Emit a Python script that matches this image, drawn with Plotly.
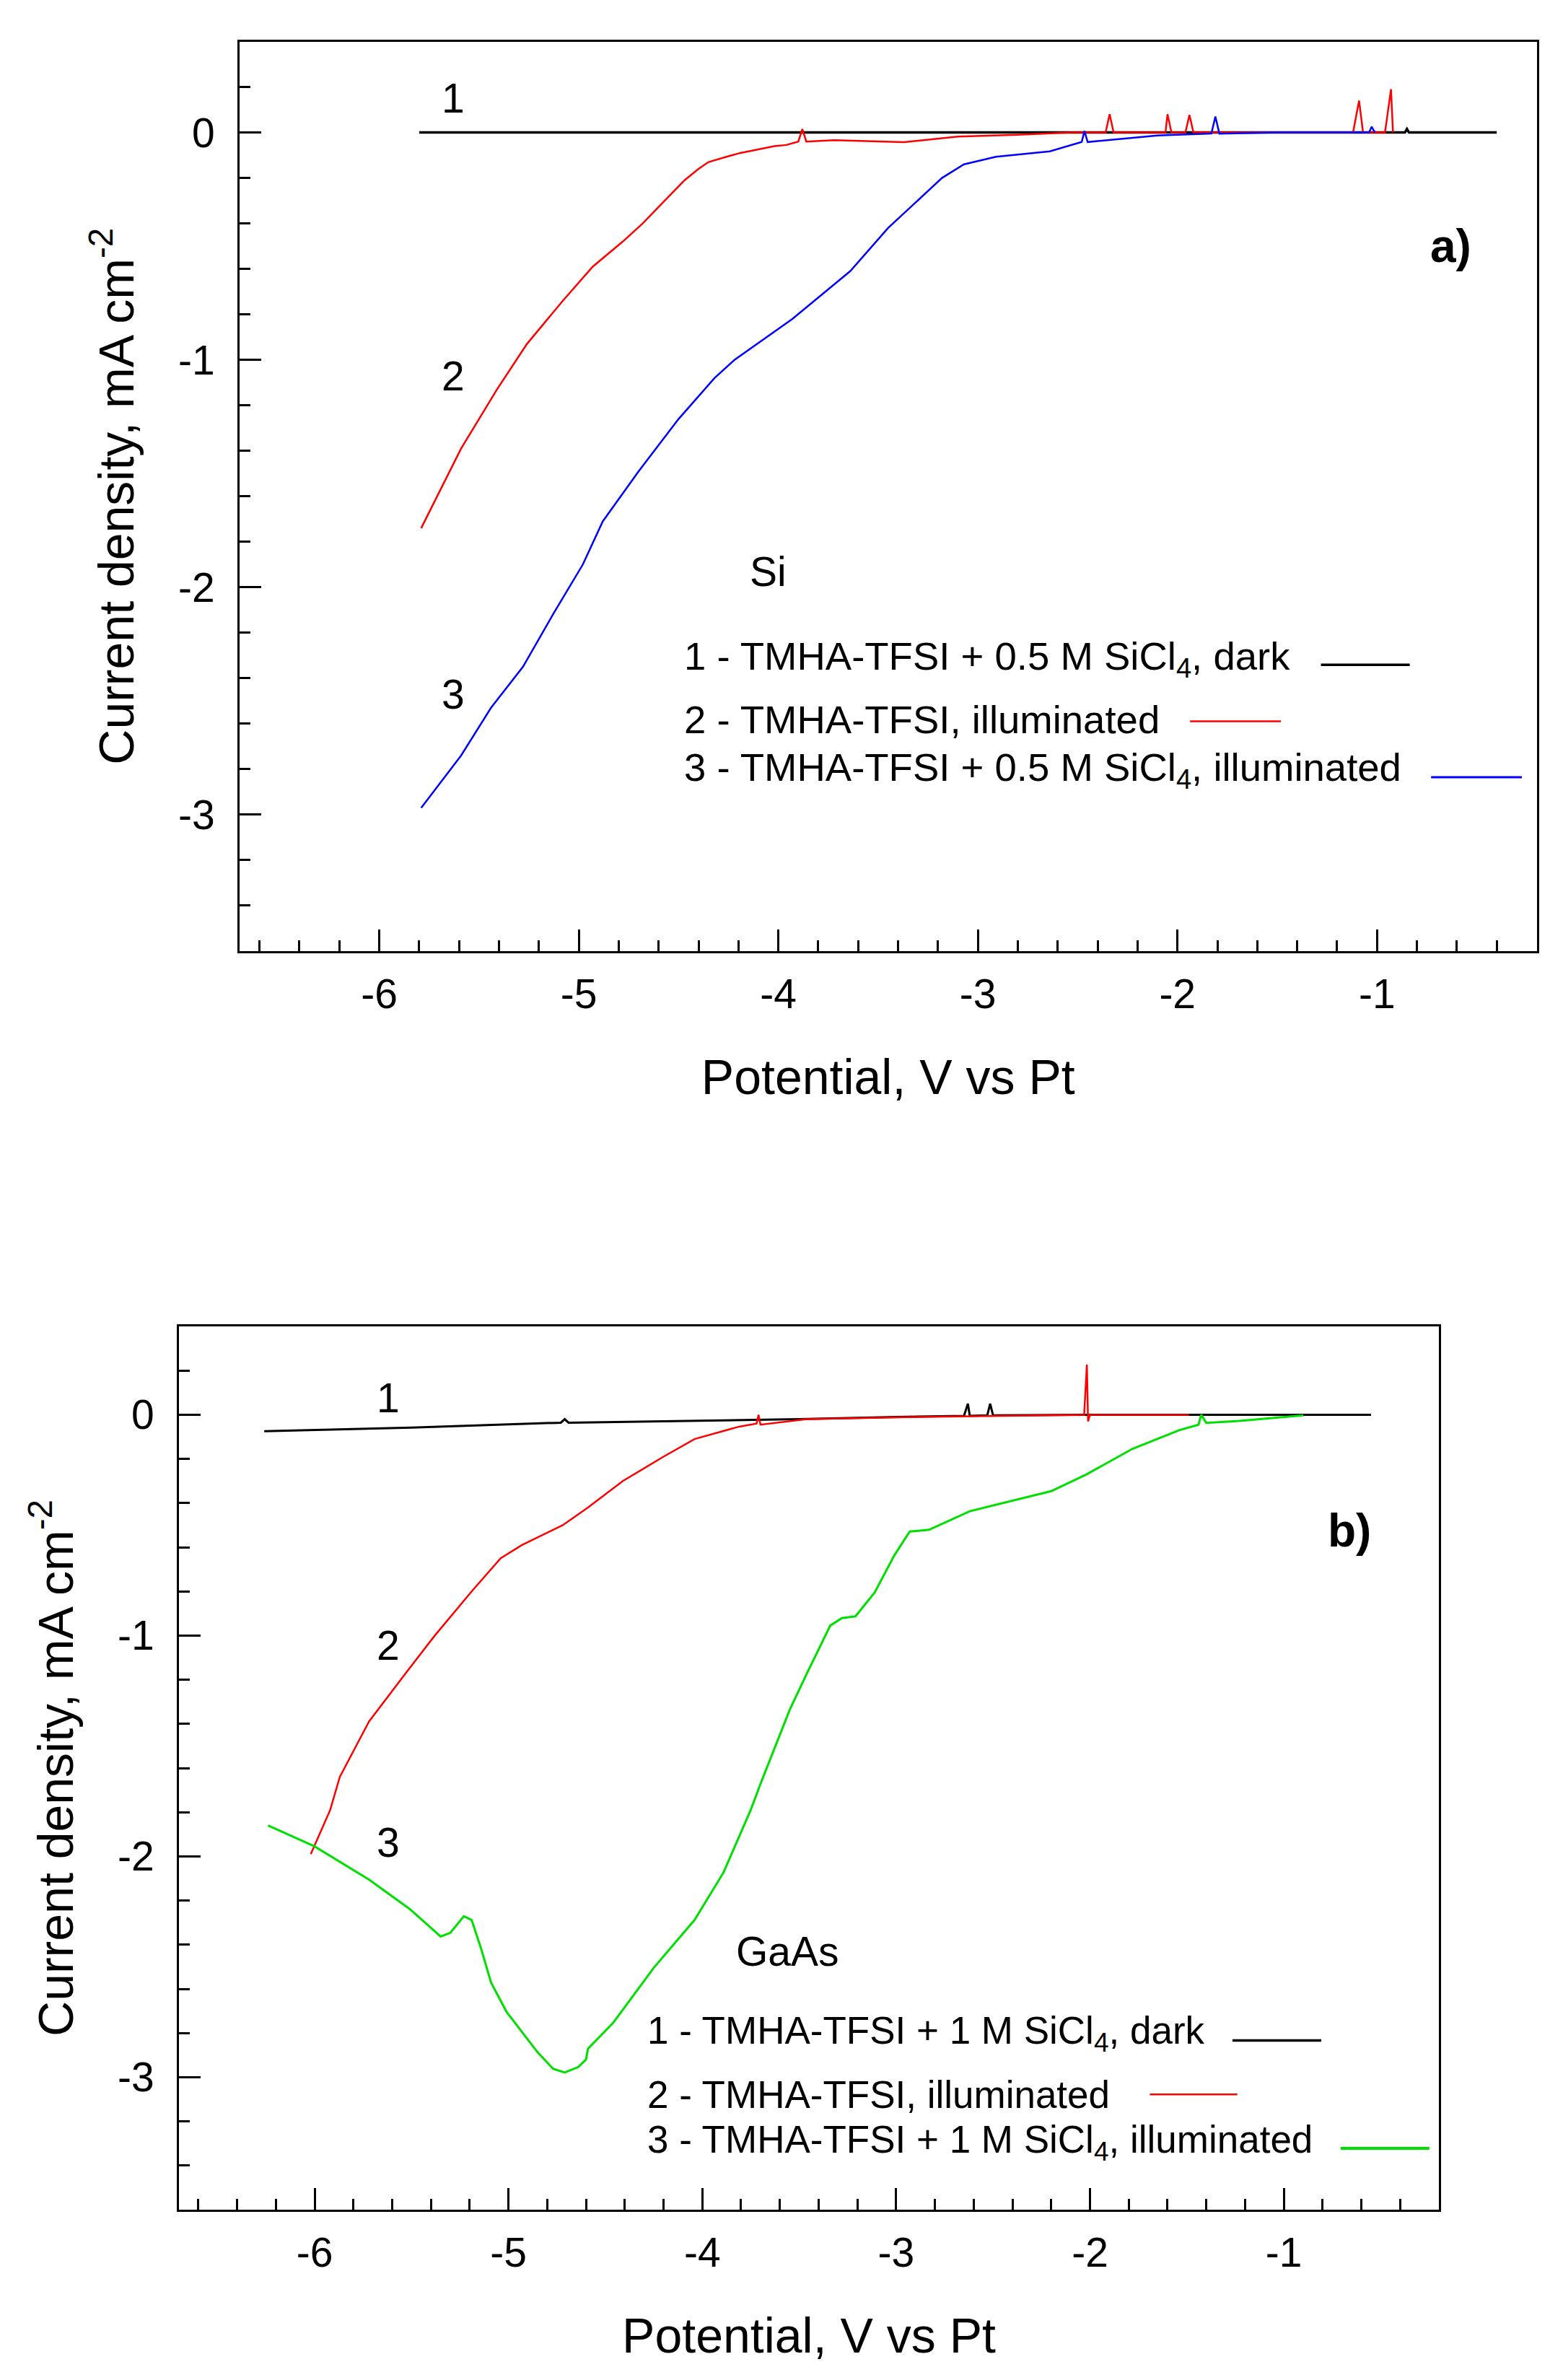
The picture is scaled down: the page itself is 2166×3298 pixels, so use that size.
import plotly.graph_objects as go

# ---------------- DATA ----------------
# Panel a) Si
a1_x = [-5.80, -3.00, -1.00, -0.86, -0.85, -0.84, -0.40]
a1_y = [0.0, 0.0, 0.0, 0.0, 0.015, 0.0, 0.0]

a2_x = [-5.79, -5.59, -5.41, -5.26, -5.08, -4.93, -4.78, -4.68, -4.57, -4.47, -4.40, -4.35, -4.26,
        -4.19, -4.02, -3.96, -3.90, -3.88, -3.86, -3.72, -3.37, -3.10, -2.80, -2.53, -2.36,
        -2.34, -2.32, -2.10, -2.06, -2.05, -2.03, -1.96, -1.94, -1.92, -1.70, -1.40, -1.12,
        -1.09, -1.07, -0.96, -0.93, -0.92]
a2_y = [-1.74, -1.39, -1.13, -0.93, -0.74, -0.59, -0.48, -0.40, -0.30, -0.21, -0.16, -0.13, -0.107,
        -0.09, -0.06, -0.055, -0.04, 0.015, -0.04, -0.034, -0.043, -0.018, -0.01, 0.0, 0.0,
        0.08, 0.0, 0.0, 0.0, 0.08, 0.0, 0.0, 0.077, 0.0, 0.0, 0.0, 0.0,
        0.14, 0.0, 0.0, 0.19, 0.0]

a3_x = [-5.79, -5.59, -5.44, -5.28, -5.13, -4.98, -4.88, -4.70, -4.50, -4.32, -4.22, -4.09,
        -3.93, -3.64, -3.45, -3.18, -3.07, -2.91, -2.64, -2.48, -2.466, -2.45, -2.10, -1.83,
        -1.81, -1.79, -1.50, -1.20, -1.04, -1.027, -1.01]
a3_y = [-2.97, -2.74, -2.53, -2.35, -2.12, -1.90, -1.71, -1.49, -1.26, -1.08, -1.00, -0.92,
        -0.82, -0.61, -0.42, -0.20, -0.14, -0.107, -0.083, -0.042, 0.006, -0.042, -0.013, -0.005,
        0.07, -0.005, 0.0, 0.0, 0.0, 0.025, 0.0]

# Panel b) GaAs
b1_x = [-6.26, -5.50, -4.73, -4.71, -4.69, -3.50, -3.00, -2.65, -2.63, -2.62, -2.53, -2.515,
        -2.50, -2.00, -0.55]
b1_y = [-0.075, -0.058, -0.036, -0.02, -0.036, -0.02, -0.01, -0.005, 0.05, -0.005, -0.003, 0.05,
        -0.003, 0.0, 0.0]

b2_x = [-6.02, -6.00, -5.92, -5.87, -5.72, -5.53, -5.38, -5.19, -5.04, -4.93, -4.72, -4.59,
        -4.41, -4.20, -4.04, -3.81, -3.72, -3.71, -3.70, -3.46, -2.89, -2.03, -2.016, -2.01,
        -2.00, -1.49]
b2_y = [-1.99, -1.95, -1.79, -1.64, -1.39, -1.17, -1.00, -0.80, -0.65, -0.59, -0.50, -0.42,
        -0.30, -0.19, -0.11, -0.054, -0.04, 0.0, -0.045, -0.02, -0.01, 0.0, 0.227, -0.03,
        0.0, 0.0]

b3_x = [-6.24, -6.00, -5.72, -5.51, -5.35, -5.30, -5.23, -5.19, -5.14, -5.09, -5.01, -4.85,
        -4.77, -4.71, -4.64, -4.60, -4.59, -4.46, -4.25, -4.04, -3.89, -3.75, -3.70, -3.55,
        -3.46, -3.34, -3.28, -3.21, -3.11, -3.01, -2.93, -2.83, -2.62, -2.20, -2.02, -1.78,
        -1.54, -1.44, -1.426, -1.40, -1.23, -0.90]
b3_y = [-1.86, -1.955, -2.105, -2.238, -2.363, -2.346, -2.271, -2.288, -2.421, -2.571, -2.704, -2.887,
        -2.962, -2.979, -2.954, -2.920, -2.871, -2.754, -2.504, -2.288, -2.072, -1.789, -1.672, -1.338,
        -1.171, -0.955, -0.921, -0.913, -0.804, -0.638, -0.529, -0.521, -0.437, -0.346, -0.271, -0.154,
        -0.070, -0.045, 0.0, -0.037, -0.028, -0.003]

# Tick labels
x_tick_vals = [-6, -5, -4, -3, -2, -1]
x_tick_text = ["-6", "-5", "-4", "-3", "-2", "-1"]
y_tick_vals = [0, -1, -2, -3]
y_tick_text = ["0", "-1", "-2", "-3"]

# Texts
x_title = "Potential, V vs Pt"
y_title = "Current density, mA cm<sup>-2</sup>"
legend_a = ["1 - TMHA-TFSI + 0.5 M SiCl<sub>4</sub>, dark",
            "2 - TMHA-TFSI, illuminated",
            "3 - TMHA-TFSI + 0.5 M SiCl<sub>4</sub>, illuminated"]
legend_b = ["1 - TMHA-TFSI + 1 M SiCl<sub>4</sub>, dark",
            "2 - TMHA-TFSI, illuminated",
            "3 - TMHA-TFSI + 1 M SiCl<sub>4</sub>, illuminated"]

# ---------------- STYLE / LAYOUT ----------------
W, H = 2166, 3298
FONT = "Liberation Sans, Arial, sans-serif"
BLACK, RED, BLUE, GREEN = "#000000", "#ff0000", "#0000ff", "#00e000"

def dom_x(l, r):
    return [l / W, r / W]

def dom_y(t, b):
    return [1 - b / H, 1 - t / H]

fig = go.Figure()

def add(x, y, color, width, xa, ya):
    fig.add_trace(go.Scatter(x=x, y=y, mode="lines", line=dict(color=color, width=width),
                             xaxis=xa, yaxis=ya, showlegend=False, hoverinfo="skip"))

add(a1_x, a1_y, BLACK, 3.5, "x", "y")
add(a2_x, a2_y, RED, 2.5, "x", "y")
add(a3_x, a3_y, BLUE, 2.5, "x", "y")
add(b1_x, b1_y, BLACK, 3, "x2", "y2")
add(b2_x, b2_y, RED, 2.5, "x2", "y2")
add(b3_x, b3_y, GREEN, 3, "x2", "y2")

def xaxis(domain, anchor):
    return dict(domain=domain, anchor=anchor, range=[-6.7, -0.2],
                tickmode="array", tickvals=x_tick_vals, ticktext=x_tick_text,
                ticks="inside", ticklen=30, tickwidth=3, tickcolor="black",
                minor=dict(ticks="inside", ticklen=15, tickwidth=2.5, tickcolor="black",
                           tick0=0, dtick=0.2),
                showline=True, linewidth=3, linecolor="black", mirror=True,
                showgrid=False, zeroline=False,
                tickfont=dict(family=FONT, size=57, color="black"),
                ticklabelstandoff=8,
                title=dict(text=x_title, font=dict(family=FONT, size=68, color="black"),
                           standoff=60))

def yaxis(domain, anchor):
    return dict(domain=domain, anchor=anchor, range=[-3.6, 0.4],
                tickmode="array", tickvals=y_tick_vals, ticktext=y_tick_text,
                ticks="inside", ticklen=30, tickwidth=3, tickcolor="black",
                minor=dict(ticks="inside", ticklen=15, tickwidth=2.5, tickcolor="black",
                           tick0=0, dtick=0.2),
                showline=True, linewidth=3, linecolor="black", mirror=True,
                showgrid=False, zeroline=False,
                tickfont=dict(family=FONT, size=57, color="black"),
                ticklabelstandoff=20,
                title=dict(text=y_title, font=dict(family=FONT, size=68, color="black"),
                           standoff=40))

fig.update_layout(
    width=W, height=H, margin=dict(l=0, r=0, t=0, b=0),
    paper_bgcolor="white", plot_bgcolor="white",
    xaxis=xaxis(dom_x(324, 2121.5), "y"),
    yaxis=yaxis(dom_y(49.5, 1310), "x"),
    xaxis2=xaxis(dom_x(240, 1986), "y2"),
    yaxis2=yaxis(dom_y(1830, 3054), "x2"),
    showlegend=False,
)

ann = []
shapes = []

def txt(x, y, t, xr, yr, size=57, bold=False, xanchor="center"):
    ann.append(dict(x=x, y=y, xref=xr, yref=yr, text=("<b>%s</b>" % t) if bold else t,
                    showarrow=False, xanchor=xanchor, yanchor="middle",
                    font=dict(family=FONT, size=size, color="black")))

def seg(x0, x1, y, color, width, xr, yr):
    shapes.append(dict(type="line", x0=x0, x1=x1, y0=y, y1=y, xref=xr, yref=yr,
                       line=dict(color=color, width=width)))

# panel a annotations
txt(-5.63, 0.15, "1", "x", "y")
txt(-5.63, -1.07, "2", "x", "y")
txt(-5.63, -2.47, "3", "x", "y")
txt(-4.05, -1.93, "Si", "x", "y")
txt(-0.63, -0.50, "a)", "x", "y", size=64, bold=True)
for t, yy in zip(legend_a, [-2.316, -2.583, -2.803]):
    txt(-4.48, yy, t, "x", "y", size=54.5, xanchor="left")
seg(-1.281, -0.836, -2.341, BLACK, 3.5, "x", "y")
seg(-1.937, -1.482, -2.589, RED, 2.5, "x", "y")
seg(-0.729, -0.274, -2.835, BLUE, 3, "x", "y")

# panel b annotations
txt(-5.62, 0.075, "1", "x2", "y2")
txt(-5.62, -1.046, "2", "x2", "y2")
txt(-5.62, -1.936, "3", "x2", "y2")
txt(-3.56, -2.43, "GaAs", "x2", "y2")
txt(-0.66, -0.526, "b)", "x2", "y2", size=64, bold=True)
for t, yy in zip(legend_b, [-2.802, -3.078, -3.295]):
    txt(-4.29, yy, t, "x2", "y2", size=53, xanchor="left")
seg(-1.265, -0.807, -2.834, BLACK, 3.5, "x2", "y2")
seg(-1.691, -1.240, -3.078, RED, 2.5, "x2", "y2")
seg(-0.707, -0.249, -3.322, GREEN, 4, "x2", "y2")

fig.update_layout(annotations=ann, shapes=shapes)

fig.write_html("out.html")
